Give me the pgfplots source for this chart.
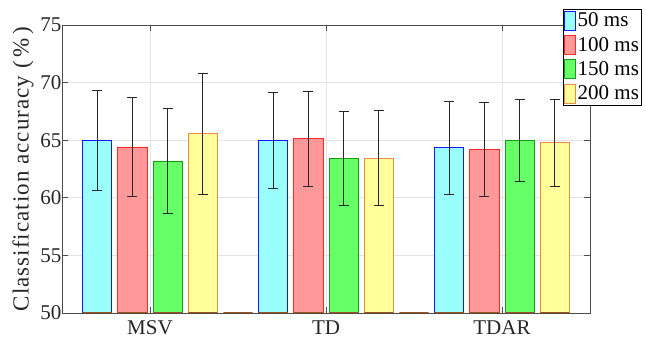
\documentclass[border=0pt]{standalone}
\usepackage{fontspec}
\setmainfont{Liberation Serif}
\newfontfamily\labelfont[LetterSpace=4.5]{Liberation Serif}
\usepackage{pgfplots}
\pgfplotsset{compat=1.18}
\definecolor{cyanf}{rgb}{0.6,1,1}
\definecolor{cyane}{rgb}{0.1,0.1,1}
\definecolor{redf}{rgb}{1,0.6,0.6}
\definecolor{rede}{rgb}{1,0.15,0.15}
\definecolor{greenf}{rgb}{0.4,1,0.4}
\definecolor{greene}{rgb}{0.1,0.6,0.1}
\definecolor{yellowf}{rgb}{1,1,0.6}
\definecolor{yellowe}{rgb}{0.93,0.55,0.25}
\definecolor{brownl}{rgb}{0.62,0.32,0.1}
\definecolor{axgray}{rgb}{0.3,0.3,0.3}
\begin{document}
\begin{tikzpicture}[x=1pt,y=1pt]
\clip (0,0) rectangle (646,347);
\path[use as bounding box] (0,0) rectangle (646,347);
\begin{axis}[
  at={(62pt,34pt)}, anchor=south west,
  width=528pt, height=288pt, scale only axis,
  xmin=0.5, xmax=3.5, ymin=50, ymax=75,
  xtick={1,2,3}, xticklabels={\textrm{MSV},\textrm{TD},\textrm{TDAR}},
  ytick={50,55,60,65,70,75},
  grid=major, major grid style={gray!22, line width=0.6pt},
  axis line style={axgray, line width=0.8pt},
  tick style={axgray, line width=0.8pt},
  tick align=inside, major tick length=6pt,
  xtick pos=both, ytick pos=both,
  /pgf/number format/assume math mode=true,
  ticklabel style={font=\rmfamily\fontsize{21}{24}\selectfont, text=black!85},
  yticklabel style={xshift=3pt},
  xticklabel style={yshift=-4pt},
  ylabel={Classification accuracy (\,\%\,)},
  ylabel style={font=\labelfont\fontsize{23}{27}\selectfont, text=black!85, yshift=0pt},
  legend style={at={(0.9489,1.056)}, anchor=north west, draw=black, line width=0.8pt,
    font=\rmfamily\fontsize{21}{23}\selectfont, inner xsep=1pt, inner ysep=1.5pt,
    nodes={inner sep=1.5pt}, row sep=4.5pt},
  legend cell align=left,
  legend image code/.code={\draw[#1, line width=0.8pt] (0pt,-9.5pt) rectangle (11pt,9.5pt);},
  error bars/error bar style={black!85, line width=0.8pt},
  error bars/error mark options={rotate=90, black!85, mark size=5pt, line width=0.8pt},
  bar width=0.165,
]
\addplot[ybar, bar shift=0, fill=cyanf, draw=cyane, line width=0.8pt,
  error bars/.cd, y dir=both, y explicit]
  coordinates {(0.7,64.98) +- (0,4.33) (1.7,64.99) +- (0,4.17) (2.7,64.35) +- (0,4.05)};
\addlegendentry{50 ms}
\addplot[ybar, bar shift=0, fill=redf, draw=rede, line width=0.8pt,
  error bars/.cd, y dir=both, y explicit]
  coordinates {(0.9,64.41) +- (0,4.31) (1.9,65.12) +- (0,4.15) (2.9,64.22) +- (0,4.07)};
\addlegendentry{100 ms}
\addplot[ybar, bar shift=0, fill=greenf, draw=greene, line width=0.8pt,
  error bars/.cd, y dir=both, y explicit]
  coordinates {(1.1,63.20) +- (0,4.58) (2.1,63.43) +- (0,4.05) (3.1,64.98) +- (0,3.60)};
\addlegendentry{150 ms}
\addplot[ybar, bar shift=0, fill=yellowf, draw=yellowe, line width=0.8pt,
  error bars/.cd, y dir=both, y explicit]
  coordinates {(1.3,65.57) +- (0,5.24) (2.3,63.44) +- (0,4.12) (3.3,64.80) +- (0,3.78)};
\addlegendentry{200 ms}
\addplot[ybar, bar shift=0, fill=none, draw=brownl, line width=1.4pt, forget plot]
  coordinates {(0.7,50) (0.9,50) (1.1,50) (1.3,50) (1.5,50)
               (1.7,50) (1.9,50) (2.1,50) (2.3,50) (2.5,50)
               (2.7,50) (2.9,50) (3.1,50) (3.3,50)};
\end{axis}
\end{tikzpicture}
\end{document}
